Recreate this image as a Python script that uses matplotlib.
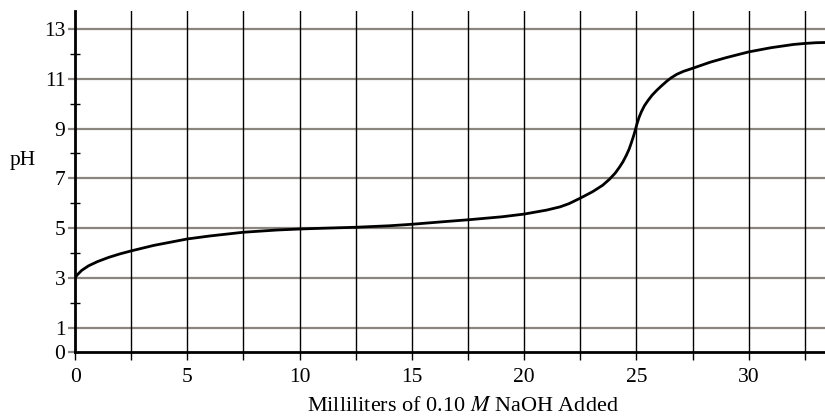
import matplotlib
matplotlib.use("Agg")
import matplotlib.pyplot as plt

# titration curve
ml_naoh = [0, 0.1, 0.3, 0.6, 1.0, 1.5, 2.0, 2.5, 3.5, 5.0, 6.0, 7.5, 9.0, 10.0, 11.0,
           12.5, 14.0, 15.0, 16.5, 17.5, 19.0, 20.0, 21.0, 21.6, 22.0, 22.5, 23.05,
           23.5, 23.8, 24.05, 24.25, 24.4, 24.55, 24.68, 24.78, 24.86, 24.93, 25.03,
           25.12, 25.22, 25.36, 25.52, 25.7, 25.9, 26.1, 26.35, 26.55, 26.8, 27.1,
           27.5, 28.3, 29.0, 30.0, 31.0, 32.0, 32.5, 33.0, 33.5]
ph = [3.0, 3.12, 3.3, 3.48, 3.65, 3.82, 3.96, 4.08, 4.3, 4.56, 4.68, 4.83, 4.92, 4.96, 4.99,
      5.03, 5.09, 5.15, 5.26, 5.33, 5.45, 5.56, 5.72, 5.85, 5.98, 6.2, 6.46,
      6.72, 6.96, 7.2, 7.45, 7.66, 7.92, 8.18, 8.44, 8.66, 8.87, 9.2,
      9.45, 9.67, 9.92, 10.13, 10.34, 10.53, 10.7, 10.9, 11.04, 11.18, 11.3,
      11.42, 11.67, 11.85, 12.08, 12.25, 12.38, 12.42, 12.45, 12.46]

x_ticks = [0, 5, 10, 15, 20, 25, 30]
x_grid = [i * 2.5 for i in range(1, 14)]
y_ticks = [0, 1, 3, 5, 7, 9, 11, 13]
y_grid = [1, 3, 5, 7, 9, 11, 13]
y_minor = [2, 4, 6, 8, 10, 12]

plt.rcParams['font.family'] = ['Liberation Serif', 'DejaVu Serif']
plt.rcParams['mathtext.fontset'] = 'stix'

fig = plt.figure(figsize=(8.25, 4.18), dpi=100)
ax = fig.add_axes([0.091, 0.157, 0.909, 0.817])

for y in y_grid:
    ax.axhline(y, color='#8a857f', lw=1.6, zorder=1)
for x in x_grid:
    ax.axvline(x, color='black', lw=1.0, zorder=1)

ax.plot(ml_naoh, ph, color='black', lw=2.0, zorder=3,
        solid_joinstyle='round', solid_capstyle='round')

ax.set_xlim(0, 33.4)
ax.set_ylim(0, 13.73)

ax.spines['top'].set_visible(False)
ax.spines['right'].set_visible(False)
ax.spines['left'].set_linewidth(2.0)
ax.spines['bottom'].set_linewidth(2.0)

ax.set_xticks(x_grid, minor=True)
ax.set_xticks(x_ticks)
ax.set_yticks(y_ticks)
ax.set_yticks(y_minor, minor=True)
ax.tick_params(axis='x', which='both', direction='out', length=6, width=1.0, labelsize=15.5, pad=5)
ax.tick_params(axis='y', which='major', direction='out', length=5, width=1.6,
               color='#8a857f', labelsize=15.5, pad=2)
ax.tick_params(axis='y', which='minor', direction='inout', length=7, width=1.0)

ax.set_xlabel('Milliliters of 0.10 $\\mathit{M}$ NaOH Added', fontsize=16)
ax.xaxis.set_label_coords(0.517, -0.13)
ax.text(-0.07, 0.562, 'pH', transform=ax.transAxes, fontsize=15.5, ha='center', va='center')

fig.savefig('out.png', dpi=100)
